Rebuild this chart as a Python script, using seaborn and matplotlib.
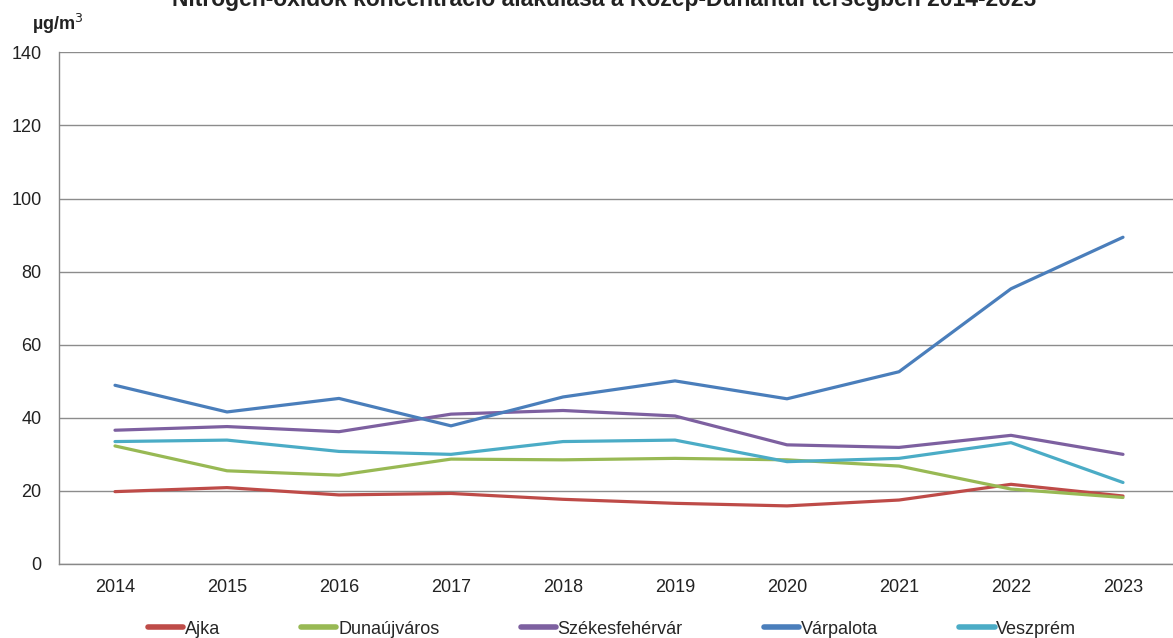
import matplotlib
matplotlib.use("Agg")
import matplotlib.pyplot as plt
import seaborn as sns
import pandas as pd

years = ["2014", "2015", "2016", "2017", "2018", "2019", "2020", "2021", "2022", "2023"]
ajka = [19.8, 20.9, 18.9, 19.3, 17.7, 16.6, 15.9, 17.5, 21.8, 18.6]
dunaujvaros = [32.3, 25.5, 24.3, 28.7, 28.5, 28.9, 28.5, 26.8, 20.5, 18.2]
szekesfehervar = [36.6, 37.6, 36.2, 41.0, 42.0, 40.5, 32.6, 31.9, 35.2, 30.0]
varpalota = [48.9, 41.6, 45.3, 37.8, 45.7, 50.1, 45.2, 52.6, 75.3, 89.4]
veszprem = [33.5, 33.9, 30.8, 30.0, 33.5, 33.9, 28.0, 28.9, 33.2, 22.3]
series_names = ["Ajka", "Dunaújváros", "Székesfehérvár", "Várpalota", "Veszprém"]
colors = ["#BE4B48", "#98B954", "#7D60A0", "#4A7EBB", "#4BACC6"]
title = "Nitrogén-oxidok koncentráció alakulása a Közép-Dunántúl térségben 2014-2023"
unit = "µg/m$^3$"

rows = []
for name, vals in zip(series_names, [ajka, dunaujvaros, szekesfehervar, varpalota, veszprem]):
    for i, (y, v) in enumerate(zip(years, vals)):
        rows.append({"pos": i, "year": y, "value": v, "city": name})
df = pd.DataFrame(rows)

sns.set_style("white")
plt.rcParams["font.family"] = ["Liberation Sans", "DejaVu Sans"]

fig = plt.figure(figsize=(11.73, 6.38), dpi=100)
ax = fig.add_axes([59 / 1173, (638 - 564) / 638, 1120 / 1173, (564 - 52.3) / 638])

sns.lineplot(data=df, x="pos", y="value", hue="city", palette=dict(zip(series_names, colors)),
             hue_order=series_names, linewidth=2.3, ax=ax, legend=False, sort=False)

ax.set_xlim(-0.5, 9.5)
ax.set_ylim(0, 140)
ax.set_yticks(range(0, 141, 20))
ax.set_xticks(range(10))
ax.set_xticklabels(years)
ax.set_xticks([i + 0.5 for i in range(-1, 10)], minor=True)
ax.tick_params(axis="x", which="major", length=0, pad=11, labelsize=13, colors="#222222")
ax.tick_params(axis="x", which="minor", length=4.5, width=1.0, color="#888888", direction="out")
ax.tick_params(axis="y", length=4.5, width=1.0, color="#888888", labelsize=13, colors="#222222", pad=8)
ax.yaxis.grid(True, color="#8c8c8c", linewidth=1.0)
ax.set_axisbelow(True)
ax.set_xlabel("")
ax.set_ylabel("")
for s in ["top", "right"]:
    ax.spines[s].set_visible(False)
for s in ["left", "bottom"]:
    ax.spines[s].set_color("#888888")
    ax.spines[s].set_linewidth(1.0)

fig.text(32 / 1173, 1 - 30 / 638, unit, fontsize=13, fontweight="bold", color="#222222",
         ha="left", va="baseline")
fig.text(604 / 1173, 1 - 6 / 638, title, fontsize=16.5, fontweight="bold", color="#222222",
         ha="center", va="baseline")

handles = [plt.Line2D([], [], color=c, linewidth=4) for c in colors]
fig.legend(handles, series_names, loc="center", bbox_to_anchor=(612 / 1173, 1 - 629 / 638), ncol=5,
           frameon=False, fontsize=13, handlelength=1.95, handletextpad=0.1, columnspacing=4.5,
           borderaxespad=0)

fig.savefig("out.png", dpi=100)
